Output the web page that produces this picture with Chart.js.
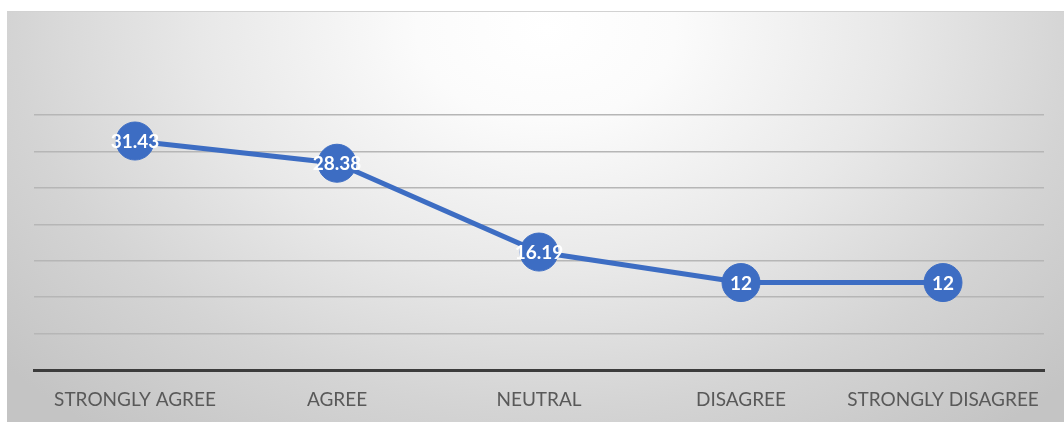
<!DOCTYPE html>
<html>
<head>
<meta charset="utf-8">
<script src="https://cdn.jsdelivr.net/npm/chart.js@4/dist/chart.umd.min.js"></script>
<style>
  html, body { margin: 0; padding: 0; background: #fff; }
  body { width: 1064px; height: 422px; position: relative; overflow: hidden; }
  #frame {
    position: absolute; left: 7px; top: 11px; width: 1057px; height: 411px;
    border-top: 1px solid #d2d2d2;
    background: radial-gradient(ellipse 68% 125% at 51% 4%, #ffffff 0%, #fbfbfb 18%, #e8e8e8 48%, #d4d4d4 74%, #c4c4c4 100%);
  }
  canvas { display: block; }
</style>
</head>
<body>
<div id="frame"><canvas id="responseChart" width="1057" height="410"></canvas></div>
<script>
var categories = ["STRONGLY AGREE", "AGREE", "NEUTRAL", "DISAGREE", "STRONGLY DISAGREE"];
var percentages = [31.43, 28.38, 16.19, 12, 12];
var yMax = 35;
var yStep = 5;

var lineBlue = "#3d6dc3";

// white value text sitting on top of each marker
var pointLabels = {
  id: "pointLabels",
  afterDatasetsDraw(chart) {
    var ctx = chart.ctx;
    var meta = chart.getDatasetMeta(0);
    ctx.save();
    ctx.font = "bold 19px Lato";
    ctx.fillStyle = "#ffffff";
    ctx.textAlign = "center";
    ctx.textBaseline = "middle";
    meta.data.forEach((pt, i) => {
      ctx.fillText(String(percentages[i]), pt.x, pt.y + 1);
    });
    ctx.restore();
  }
};

new Chart("responseChart", {
  type: "line",
  data: {
    labels: categories,
    datasets: [{
      data: percentages,
      borderColor: lineBlue,
      borderWidth: 5,
      pointBackgroundColor: lineBlue,
      pointBorderColor: lineBlue,
      pointRadius: 19,
      pointBorderWidth: 1,
      tension: 0,
      clip: false
    }]
  },
  options: {
    responsive: false,
    animation: false,
    layout: { padding: { top: 103, left: 27, right: 20, bottom: 8 } },
    plugins: {
      legend: { display: false },
      tooltip: { enabled: false }
    },
    scales: {
      x: {
        offset: true,
        grid: { display: false, drawTicks: false },
        border: { display: true, color: "#3c3c3c", width: 3 },
        ticks: { color: "#595959", font: { family: "Lato", size: 19 }, padding: 18, maxRotation: 0 },
        // keep the category band flush with the gridlines
        afterFit: s => { s.height = 44; s.paddingLeft = 0; s.paddingRight = 0; }
      },
      y: {
        min: 0,
        max: yMax,
        ticks: { display: false, stepSize: yStep },
        border: { display: false },
        grid: {
          drawTicks: false,
          color: ctx => ctx.tick.value === 0 ? "#3c3c3c" : "#b6b6b6",
          lineWidth: ctx => ctx.tick.value === 0 ? 3 : 1.5
        }
      }
    }
  },
  plugins: [pointLabels]
});
</script>
</body>
</html>
